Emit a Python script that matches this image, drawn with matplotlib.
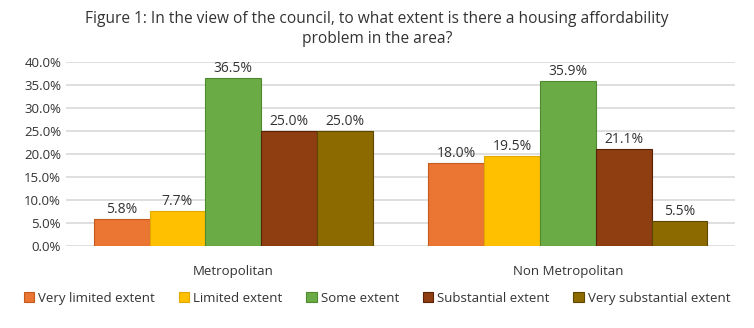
"""Housing affordability survey — grouped bar chart by area type."""
import matplotlib

matplotlib.use("Agg")
import matplotlib.pyplot as plt
import matplotlib.ticker as ticker
import numpy as np

plt.rcParams["font.family"] = ["Open Sans", "DejaVu Sans"]

AREAS = ["Metropolitan", "Non Metropolitan"]
EXTENTS = [
    "Very limited extent",
    "Limited extent",
    "Some extent",
    "Substantial extent",
    "Very substantial extent",
]
# percentage values, one list per extent: [Metropolitan, Non Metropolitan]
VERY_LIMITED = [5.8, 18.0]
LIMITED = [7.7, 19.5]
SOME = [36.5, 35.9]
SUBSTANTIAL = [25.0, 21.1]
VERY_SUBSTANTIAL = [25.0, 5.5]

_COLORS = ["#EB7532", "#FFC000", "#6AAB45", "#8E3E10", "#8C6A00"]
_EDGES = ["#C55A1E", "#E0A800", "#4F8A30", "#5A2205", "#5E4600"]
_TEXT = "#333333"
_GRID = "#D9D9D9"

series = [VERY_LIMITED, LIMITED, SOME, SUBSTANTIAL, VERY_SUBSTANTIAL]

fig = plt.figure(figsize=(7.54, 3.28), dpi=100)
ax = fig.add_axes([0.0875, 0.25, 0.8875, 0.561])

x = np.arange(len(AREAS))
n = len(series)
group_w = 0.834
bar_w = group_w / n

for i, (vals, label) in enumerate(zip(series, EXTENTS)):
    pos = x - group_w / 2 + bar_w * (i + 0.5)
    bars = ax.bar(pos, vals, width=bar_w, color=_COLORS[i], edgecolor=_EDGES[i],
                  linewidth=0.8, label=label, zorder=2)
    for b, v in zip(bars, vals):
        ax.text(b.get_x() + b.get_width() / 2, v + 0.4, f"{v:.1f}%",
                ha="center", va="bottom", fontsize=10, color=_TEXT)

ax.set_xlim(-0.5, 1.5)
ax.set_ylim(0, 40)
ax.yaxis.set_major_locator(ticker.MultipleLocator(5))
ax.yaxis.set_major_formatter(ticker.FuncFormatter(lambda v, _: f"{v:.1f}%"))
ax.set_xticks(x)
ax.set_xticklabels(AREAS)
ax.tick_params(length=0, labelsize=9.5, colors=_TEXT)
ax.tick_params(axis="x", pad=14)
ax.yaxis.grid(True, color=_GRID, linewidth=1.2, zorder=0)
ax.set_axisbelow(True)
for spine in ax.spines.values():
    spine.set_visible(False)

fig.text(0.5, 0.965,
         "Figure 1: In the view of the council, to what extent is there a housing affordability\nproblem in the area?",
         ha="center", va="top", fontsize=11.2, color=_TEXT, linespacing=1.3)

fig.legend(loc="center", bbox_to_anchor=(0.5, 0.09), ncol=5, frameon=False,
           fontsize=9.5, handlelength=0.8, handleheight=0.8, handletextpad=0.3,
           columnspacing=1.8, labelcolor=_TEXT)

fig.savefig("out.png", dpi=100, facecolor="white")
